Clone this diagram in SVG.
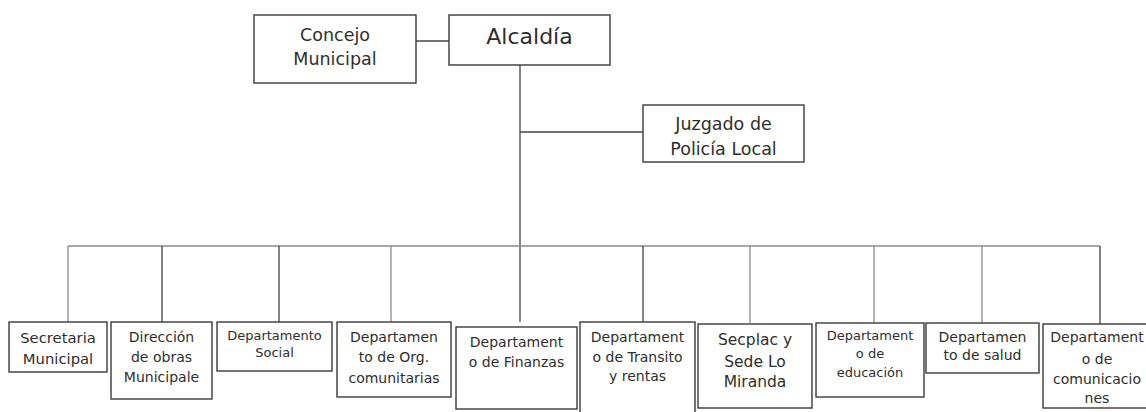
<svg xmlns="http://www.w3.org/2000/svg" width="1146" height="412" viewBox="0 0 1146 412">
<style>
.box{fill:#fff;stroke:#3a3a3a;stroke-width:1.4}
.ln{stroke:#444;stroke-width:1.3;fill:none}
.lg{stroke:#8a8a8a;stroke-width:1.3;fill:none}
text{font-family:"DejaVu Sans","Liberation Sans",sans-serif;fill:#2e2e2e;text-anchor:middle}
.t17{font-size:17.5px}
.t22{font-size:22px}
.t16{font-size:15.5px}
.t15{font-size:14.8px}
.t14{font-size:14px}
.t13{font-size:13px}
</style>
<g id="connectors">
<line class="ln" x1="416" y1="41" x2="449" y2="41"/>
<line class="ln" x1="520" y1="65" x2="520" y2="322"/>
<line class="ln" x1="520" y1="132" x2="643" y2="132"/>
<line class="lg" x1="68" y1="246" x2="1100" y2="246"/>
<line class="lg" x1="68" y1="246" x2="68" y2="322"/>
<line class="ln" x1="162" y1="246" x2="162" y2="322"/>
<line class="ln" x1="279" y1="246" x2="279" y2="322"/>
<line class="lg" x1="391" y1="246" x2="391" y2="322"/>
<line class="ln" x1="643" y1="246" x2="643" y2="322"/>
<line class="lg" x1="750" y1="246" x2="750" y2="323"/>
<line class="lg" x1="874" y1="246" x2="874" y2="323"/>
<line class="lg" x1="982" y1="246" x2="982" y2="323"/>
<line class="ln" x1="1100" y1="246" x2="1100" y2="324"/>
</g>
<g id="concejo">
<rect class="box" x="254" y="15" width="162" height="68"/>
<text class="t17" x="335" y="41">Concejo</text>
<text class="t17" x="335" y="65">Municipal</text>
</g>
<g id="alcaldia">
<rect class="box" x="449" y="15" width="161" height="50"/>
<text class="t22" x="529.500" y="44">Alcaldía</text>
</g>
<g id="juzgado">
<rect class="box" x="643" y="105" width="161" height="57"/>
<text class="t17" x="723.500" y="130">Juzgado de</text>
<text class="t17" x="723.500" y="155">Policía Local</text>
</g>
<g id="secretaria">
<rect class="box" x="9" y="322" width="98" height="50"/>
<text class="t15" x="58" y="343">Secretaria</text>
<text class="t15" x="58" y="364">Municipal</text>
</g>
<g id="direccion">
<rect class="box" x="111" y="322" width="101" height="77"/>
<text class="t14" x="161.500" y="342">Dirección</text>
<text class="t14" x="161.500" y="362">de obras</text>
<text class="t14" x="161.500" y="382">Municipale</text>
</g>
<g id="social">
<rect class="box" x="217" y="322" width="115" height="49"/>
<text class="t13" x="274.500" y="340">Departamento</text>
<text class="t13" x="274.500" y="357">Social</text>
</g>
<g id="org">
<rect class="box" x="337" y="322" width="114" height="75"/>
<text class="t14" x="394" y="342">Departamen</text>
<text class="t14" x="394" y="362">to de Org.</text>
<text class="t14" x="394" y="383">comunitarias</text>
</g>
<g id="finanzas">
<rect class="box" x="456" y="327" width="121" height="82"/>
<text class="t14" x="516.500" y="347">Departament</text>
<text class="t14" x="516.500" y="367">o de Finanzas</text>
</g>
<g id="transito">
<rect class="box" x="580" y="322" width="115" height="96"/>
<text class="t14" x="637.500" y="342">Departament</text>
<text class="t14" x="637.500" y="362">o de Transito</text>
<text class="t14" x="637.500" y="381">y rentas</text>
</g>
<g id="secplac">
<rect class="box" x="698" y="324" width="114" height="84"/>
<text class="t16" x="755" y="345">Secplac y</text>
<text class="t16" x="755" y="367">Sede Lo</text>
<text class="t16" x="755" y="387">Miranda</text>
</g>
<g id="educacion">
<rect class="box" x="816" y="323" width="108" height="74"/>
<text class="t13" x="870" y="340">Departament</text>
<text class="t13" x="870" y="358">o de</text>
<text class="t13" x="870" y="377">educación</text>
</g>
<g id="salud">
<rect class="box" x="926" y="323" width="113" height="50"/>
<text class="t14" x="982.500" y="342">Departamen</text>
<text class="t14" x="982.500" y="360">to de salud</text>
</g>
<g id="comunicaciones">
<rect class="box" x="1043" y="324" width="110" height="84"/>
<text class="t14" x="1097" y="342">Departament</text>
<text class="t14" x="1097" y="364">o de</text>
<text class="t14" x="1097" y="384">comunicacio</text>
<text class="t14" x="1097" y="403">nes</text>
</g>
</svg>
